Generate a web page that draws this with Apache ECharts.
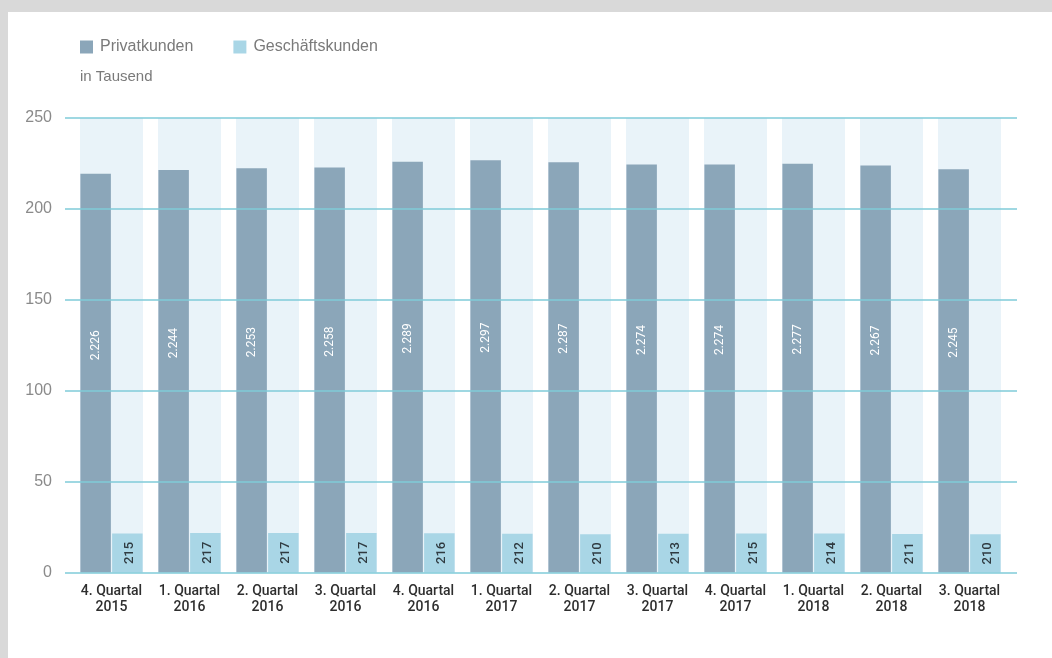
<!DOCTYPE html>
<html>
<head>
<meta charset="utf-8">
<script src="https://cdn.jsdelivr.net/npm/echarts@6/dist/echarts.min.js"></script>
<style>
  html, body { margin: 0; padding: 0; background: #d9d9d9; width: 1052px; height: 658px; overflow: hidden; }
  #main { position: absolute; left: 8px; top: 12px; width: 1044px; height: 646px; background: #ffffff; }
</style>
</head>
<body>
<div id="main"></div>
<script>
// Categories (quarters)
const categories = [
  '4. Quartal\n2015', '1. Quartal\n2016', '2. Quartal\n2016', '3. Quartal\n2016',
  '4. Quartal\n2016', '1. Quartal\n2017', '2. Quartal\n2017', '3. Quartal\n2017',
  '4. Quartal\n2017', '1. Quartal\n2018', '2. Quartal\n2018', '3. Quartal\n2018'
];
// Printed labels (in Tausend)
const privatLabels = ['2.226', '2.244', '2.253', '2.258', '2.289', '2.297', '2.287', '2.274', '2.274', '2.277', '2.267', '2.245'];
const geschLabels = ['215', '217', '217', '217', '216', '212', '210', '213', '215', '214', '211', '210'];
// Bar heights as drawn on the 0–250 axis
const privatHeights = [219.3, 221.4, 222.3, 222.8, 225.9, 226.7, 225.7, 224.4, 224.4, 224.9, 223.9, 221.8];
const geschHeights = [21.5, 21.7, 21.7, 21.7, 21.6, 21.3, 21.1, 21.3, 21.5, 21.4, 21.2, 21.1];
// Background band (full axis height)
const bandValues = [250, 250, 250, 250, 250, 250, 250, 250, 250, 250, 250, 250];
const yTicks = { min: 0, max: 250, interval: 50 };

const narrow = 'Roboto, "Liberation Sans", sans-serif';
const plain = '"Liberation Sans", Arial, sans-serif';
const chart = echarts.init(document.getElementById('main'), null, { renderer: 'canvas' });

chart.setOption({
  animation: false,
  backgroundColor: '#ffffff',
  title: {
    text: 'in Tausend',
    left: 72, top: 57, padding: 0,
    textStyle: { fontSize: 15, fontWeight: 'normal', color: '#7a7a7a', fontFamily: plain }
  },
  legend: {
    left: 72, top: 27, padding: 0,
    itemWidth: 13, itemHeight: 13, itemGap: 40,
    icon: 'rect',
    data: ['Privatkunden', 'Geschäftskunden'],
    textStyle: { fontSize: 16, color: '#7a7a7a', fontFamily: plain, padding: [0, 0, 0, 2] }
  },
  grid: [
    { left: 57, top: 106, width: 952, height: 454.5 },
    { left: 64.5, top: 106, width: 936, height: 454.5 }
  ],
  xAxis: [
    { type: 'category', gridIndex: 0, data: categories, show: false },
    {
      type: 'category', gridIndex: 1, data: categories,
      axisLine: { show: false }, axisTick: { show: false },
      axisLabel: { margin: 11, color: '#2e2e2e', fontSize: 14, lineHeight: 16, fontWeight: 500, fontFamily: narrow, interval: 0 }
    },
    { type: 'category', gridIndex: 1, data: categories, show: false }
  ],
  yAxis: [
    {
      type: 'value', gridIndex: 0, min: yTicks.min, max: yTicks.max, interval: yTicks.interval,
      z: 5,
      axisLine: { show: false }, axisTick: { show: false },
      splitLine: { show: true, lineStyle: { color: '#7fcbd8', width: 1.5 } },
      axisLabel: { margin: 13, color: '#8a8a8a', fontSize: 16, fontFamily: plain }
    },
    {
      type: 'value', gridIndex: 1, min: yTicks.min, max: yTicks.max, interval: yTicks.interval,
      show: false, splitLine: { show: false }
    }
  ],
  series: [
    {
      name: 'band', type: 'bar', xAxisIndex: 2, yAxisIndex: 1,
      data: bandValues, barWidth: 63, z: 1, silent: true,
      itemStyle: { color: '#e9f3f9' }
    },
    {
      name: 'Privatkunden', type: 'bar', xAxisIndex: 1, yAxisIndex: 1,
      data: privatHeights, barWidth: 30.5, barGap: '4%', z: 2,
      itemStyle: { color: '#8ba6b9' },
      label: {
        show: true, position: ['50%', '43%'], rotate: 90, align: 'center', verticalAlign: 'middle',
        color: '#ffffff', fontSize: 12, fontFamily: narrow,
        formatter: p => privatLabels[p.dataIndex]
      }
    },
    {
      name: 'Geschäftskunden', type: 'bar', xAxisIndex: 1, yAxisIndex: 1,
      data: geschHeights, barWidth: 30.5, barGap: '4%', z: 2,
      itemStyle: { color: '#a9d6e6' },
      label: {
        show: true, position: 'inside', rotate: 90, align: 'center', verticalAlign: 'middle',
        color: '#2f3a40', fontSize: 13, fontWeight: 500, fontFamily: narrow,
        offset: [0, 2],
        formatter: p => geschLabels[p.dataIndex]
      }
    }
  ]
});
</script>
</body>
</html>
